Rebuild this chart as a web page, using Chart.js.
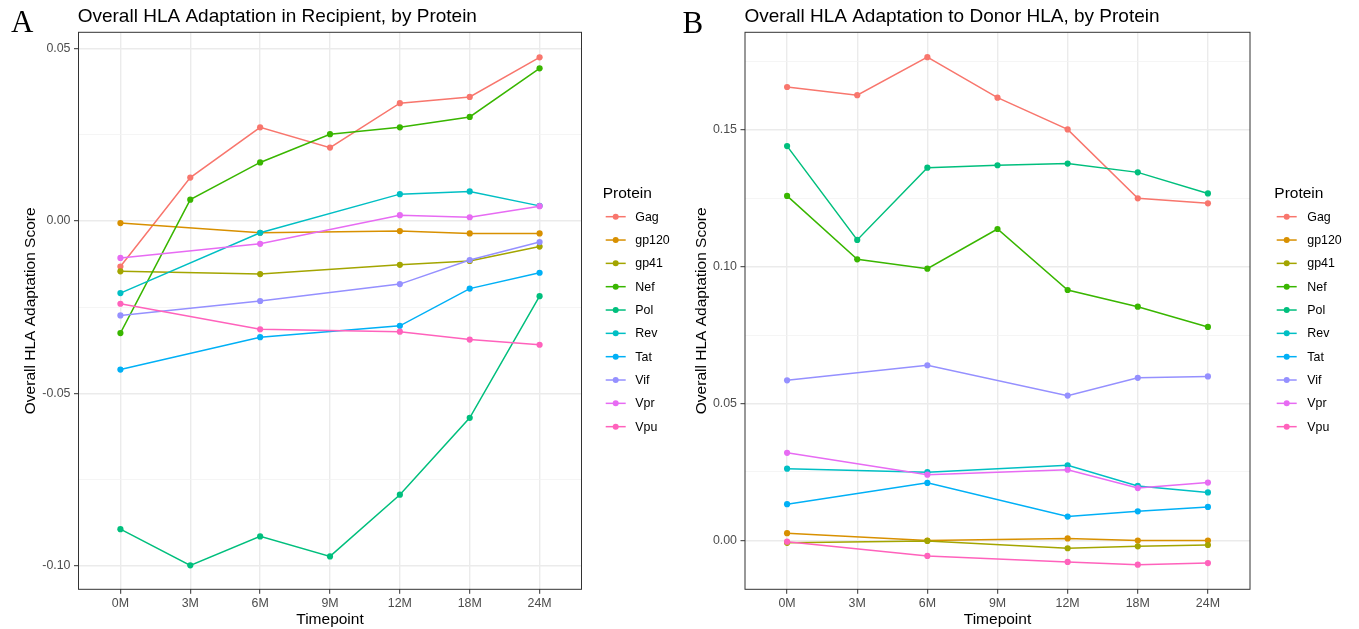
<!DOCTYPE html>
<html><head><meta charset="utf-8">
<script src="https://cdn.jsdelivr.net/npm/chart.js@4/dist/chart.umd.min.js"></script>
<style>
html,body{margin:0;padding:0;background:#fff;}
#wrap{position:relative;width:1359px;height:629px;overflow:hidden;background:#fff;}
canvas{position:absolute;top:0;}
</style></head><body>
<div id="wrap">
<canvas id="cA" width="680" height="629" style="left:0px"></canvas>
<canvas id="cB" width="679" height="629" style="left:680px"></canvas>
</div>
<script>
// ---------- data ----------
const timepoints = ['0M', '3M', '6M', '9M', '12M', '18M', '24M'];
const proteins = ['Gag', 'gp120', 'gp41', 'Nef', 'Pol', 'Rev', 'Tat', 'Vif', 'Vpr', 'Vpu'];
const proteinColors = ['#F8766D', '#D89000', '#A3A500', '#39B600', '#00BF7D', '#00BFC4', '#00B0F6', '#9590FF', '#E76BF3', '#FF62BC'];

// Panel A: adaptation in recipient (null = no sample at that timepoint)
const recipientGag   = [-0.0132, 0.0126, 0.0272, 0.0213, 0.0342, 0.0360, 0.0475];
const recipientGp120 = [-0.0006, null, -0.0034, null, -0.0029, -0.0036, -0.0036];
const recipientGp41  = [-0.0146, null, -0.0154, null, -0.0127, -0.0116, -0.0074];
const recipientNef   = [-0.0325, 0.0062, 0.0170, 0.0252, 0.0272, 0.0302, 0.0443];
const recipientPol   = [-0.0894, -0.0999, -0.0915, -0.0973, -0.0794, -0.0571, -0.0218];
const recipientRev   = [-0.0209, null, -0.0034, null, 0.0078, 0.0086, 0.0044];
const recipientTat   = [-0.0431, null, -0.0337, null, -0.0304, -0.0196, -0.0150];
const recipientVif   = [-0.0274, null, -0.0232, null, -0.0183, -0.0113, -0.0061];
const recipientVpr   = [-0.0107, null, -0.0066, null, 0.0017, 0.0011, 0.0043];
const recipientVpu   = [-0.0240, null, -0.0314, null, -0.0321, -0.0344, -0.0359];

// Panel B: adaptation to donor HLA
const donorGag   = [0.1657, 0.1627, 0.1766, 0.1618, 0.1502, 0.1250, 0.1232];
const donorGp120 = [0.0026, null, -0.0001, null, 0.0007, -0.0001, -0.0001];
const donorGp41  = [-0.0009, null, -0.0002, null, -0.0029, -0.0022, -0.0017];
const donorNef   = [0.1259, 0.1027, 0.0993, 0.1138, 0.0915, 0.0854, 0.0780];
const donorPol   = [0.1441, 0.1098, 0.1362, 0.1371, 0.1377, 0.1345, 0.1268];
const donorRev   = [0.0262, null, 0.0249, null, 0.0274, 0.0199, 0.0175];
const donorTat   = [0.0132, null, 0.0210, null, 0.0087, 0.0106, 0.0122];
const donorVif   = [0.0585, null, 0.0640, null, 0.0529, 0.0594, 0.0599];
const donorVpr   = [0.0320, null, 0.0240, null, 0.0258, 0.0191, 0.0211];
const donorVpu   = [-0.0005, null, -0.0057, null, -0.0079, -0.0089, -0.0083];

// y-axis tick labels
const recipientYTicks = [-0.10, -0.05, 0.00, 0.05];
const donorYTicks = [0.00, 0.05, 0.10, 0.15];

const recipientSeries = [recipientGag, recipientGp120, recipientGp41, recipientNef, recipientPol,
                         recipientRev, recipientTat, recipientVif, recipientVpr, recipientVpu];
const donorSeries = [donorGag, donorGp120, donorGp41, donorNef, donorPol,
                     donorRev, donorTat, donorVif, donorVpr, donorVpu];

// ---------- styling ----------
const SANS = '"Liberation Sans", Arial, Helvetica, sans-serif';
const SERIF = '"Liberation Serif", "Times New Roman", serif';

const ggPanel = {
  id: 'ggPanel',
  afterDatasetsDraw(chart, args, o) {
    const {ctx, chartArea: a} = chart;
    ctx.save();
    ctx.strokeStyle = '#333333';
    ctx.lineWidth = 1;
    ctx.strokeRect(a.left, a.top, a.right - a.left, a.bottom - a.top);
    ctx.restore();
  },
  afterDraw(chart, args, o) {
    const {ctx, chartArea: a} = chart;
    ctx.save();
    // panel tag
    ctx.fillStyle = '#000';
    ctx.textBaseline = 'alphabetic';
    ctx.textAlign = 'left';
    ctx.font = '31px ' + SERIF;
    ctx.fillText(o.tag, o.tagX, o.tagY);
    // title
    ctx.font = '19px ' + SANS;
    ctx.fillStyle = '#000';
    ctx.fillText(o.title, a.left + o.titleDX, 22);
    // legend
    const L = o.legend;
    ctx.font = '15.5px ' + SANS;
    ctx.fillText(L.title, L.titleX, L.titleY);
    ctx.font = '12.4px ' + SANS;
    ctx.textBaseline = 'middle';
    chart.data.datasets.forEach((ds, i) => {
      const y = L.y0 + i * L.dy;
      ctx.strokeStyle = ds.borderColor;
      ctx.lineWidth = 1.5;
      ctx.beginPath();
      ctx.moveTo(L.symX, y);
      ctx.lineTo(L.symX + L.symW, y);
      ctx.stroke();
      ctx.fillStyle = ds.borderColor;
      ctx.beginPath();
      ctx.arc(L.symX + L.symW / 2, y, 3, 0, Math.PI * 2);
      ctx.fill();
      ctx.fillStyle = '#000';
      ctx.fillText(ds.label, L.labelX, y + 0.5);
    });
    ctx.restore();
  }
};

function isMajor(v, majors) {
  return majors.some(m => Math.abs(m - v) < 1e-9);
}

function buildChart(canvasId, series, yTicks, cfg) {
  const step = yTicks[1] - yTicks[0];
  const allTicks = [];
  for (let k = -1; k < yTicks.length; k++) {
    const base = k < 0 ? yTicks[0] - step : yTicks[k];
    if (k >= 0) allTicks.push(yTicks[k]);
    const mid = base + step / 2;
    if (mid > cfg.yMin && mid < cfg.yMax) allTicks.push(mid);
  }
  allTicks.sort((p, q) => p - q);

  const datasets = proteins.map((name, i) => ({
    label: name,
    data: timepoints.map((t, j) => ({x: j, y: series[i][j]})).filter(p => p.y !== null),
    borderColor: proteinColors[i],
    backgroundColor: proteinColors[i],
    pointBackgroundColor: proteinColors[i],
    pointBorderWidth: 0,
    pointRadius: 3.1,
    borderWidth: 1.5,
    tension: 0,
    fill: false,
    order: -i
  }));

  return new Chart(document.getElementById(canvasId), {
    type: 'line',
    data: {datasets},
    plugins: [ggPanel],
    options: {
      responsive: false,
      devicePixelRatio: 1,
      animation: false,
      events: [],
      layout: {padding: {left: 0, top: cfg.top, right: cfg.right, bottom: 0}},
      plugins: {
        legend: {display: false},
        tooltip: {enabled: false},
        title: {display: false},
        ggPanel: cfg.panel
      },
      scales: {
        x: {
          type: 'linear',
          min: -0.6,
          max: timepoints.length - 1 + 0.6,
          afterBuildTicks: s => { s.ticks = timepoints.map((t, j) => ({value: j})); },
          afterFit: s => { s.height = cfg.xHeight; },
          ticks: {
            autoSkip: false, maxRotation: 0, padding: 2.5,
            color: '#4D4D4D', font: {family: SANS, size: 12.4},
            callback: v => timepoints[Math.round(v)]
          },
          grid: {
            color: '#EBEBEB', lineWidth: 1.4, drawTicks: true, tickLength: 4.5,
            tickColor: '#333333', tickWidth: 1
          },
          border: {display: false},
          title: {
            display: true, text: 'Timepoint', color: '#000',
            font: {family: SANS, size: 15.5, lineHeight: 1.2},
            padding: {top: 0, bottom: 0}
          }
        },
        y: {
          type: 'linear',
          min: cfg.yMin,
          max: cfg.yMax,
          afterBuildTicks: s => { s.ticks = allTicks.map(v => ({value: v})); },
          afterFit: s => { s.width = cfg.yWidth; },
          ticks: {
            padding: 3.5, color: '#4D4D4D', font: {family: SANS, size: 12.4},
            callback: v => isMajor(v, yTicks) ? (Math.abs(v) < 1e-9 ? 0 : v).toFixed(2) : ''
          },
          grid: {
            color: c => (c.tick && isMajor(c.tick.value, yTicks)) ? '#EBEBEB' : '#F2F2F2',
            lineWidth: c => (c.tick && isMajor(c.tick.value, yTicks)) ? 1.4 : 0.8,
            drawTicks: true, tickLength: 4.5,
            tickColor: c => (c.tick && isMajor(c.tick.value, yTicks)) ? '#333333' : 'rgba(0,0,0,0)',
            tickWidth: 1
          },
          border: {display: false},
          title: {
            display: true, text: 'Overall HLA Adaptation Score', color: '#000',
            font: {family: SANS, size: 15.5, lineHeight: 1.2},
            padding: {top: cfg.yTitlePad, bottom: 0}
          }
        }
      }
    }
  });
}

buildChart('cA', recipientSeries, recipientYTicks, {
  yMin: -0.10685, yMax: 0.05476,
  top: 32.3, right: 98.5, yWidth: 78.5, xHeight: 39.7, yTitlePad: 21.5,
  panel: {
    tag: 'A', tagX: 11, tagY: 32.3,
    title: 'Overall HLA Adaptation in Recipient, by Protein', titleDX: -0.8,
    legend: {title: 'Protein', titleX: 602.7, titleY: 198.3, symX: 605.7, symW: 20, labelX: 635.3, y0: 216.7, dy: 23.33}
  }
});

buildChart('cB', donorSeries, donorYTicks, {
  yMin: -0.0179, yMax: 0.1857,
  top: 32.3, right: 109, yWidth: 65, xHeight: 39.7, yTitlePad: 12,
  panel: {
    tag: 'B', tagX: 2.5, tagY: 33.3,
    title: 'Overall HLA Adaptation to Donor HLA, by Protein', titleDX: -0.5,
    legend: {title: 'Protein', titleX: 594.3, titleY: 198.3, symX: 596.7, symW: 20, labelX: 627.3, y0: 216.7, dy: 23.33}
  }
});
</script>
</body></html>
